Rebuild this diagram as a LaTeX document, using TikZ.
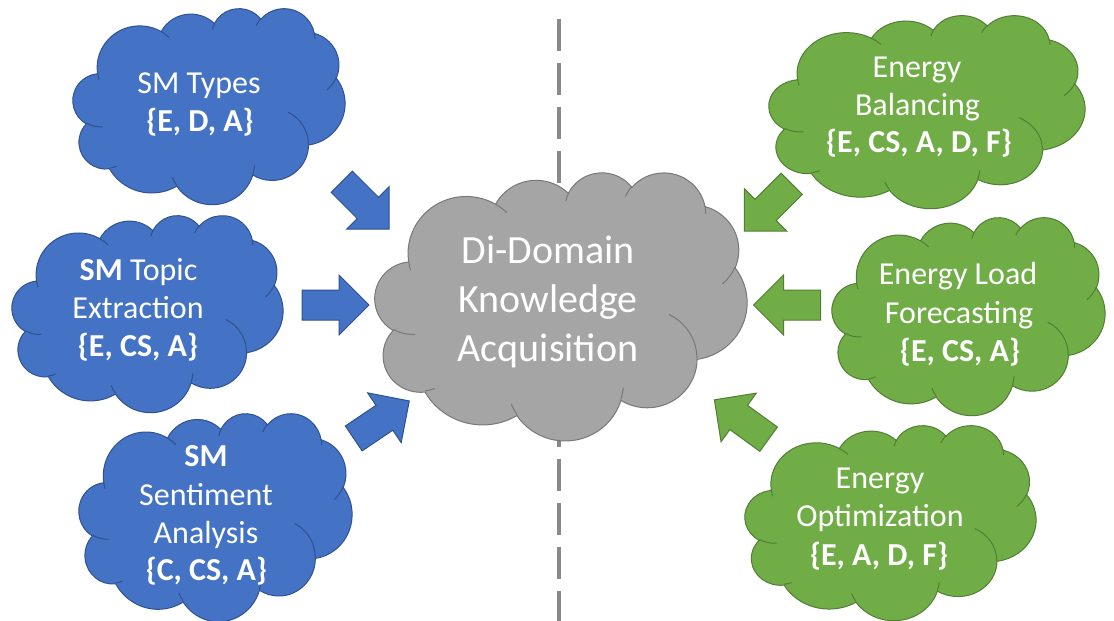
\documentclass[tikz,border=0pt]{standalone}
\usepackage{fontspec}
\setmainfont{Carlito}

\definecolor{cblue}{HTML}{4472C4}
\definecolor{cbluedk}{HTML}{2F528F}
\definecolor{cgreen}{HTML}{70AD47}
\definecolor{cgreendk}{HTML}{507E32}
\definecolor{cgray}{HTML}{A5A5A5}
\definecolor{cgraydk}{HTML}{787878}
\definecolor{cdash}{HTML}{898989}

% One lobe of a cloud: x radius, y radius, start direction, sweep (degrees).
% Directions are converted to the parametric angles used by TikZ arcs.
\newcommand\cldarc[4]{%
  \pgfextra{%
    \pgfmathsetmacro\cldA{#3}%
    \pgfmathsetmacro\cldB{#3+#4}%
    \pgfmathparse{\cldA+Mod(atan2((#1)*sin(\cldA),(#2)*cos(\cldA))-\cldA+180,360)-180}%
    \xdef\cldTa{\pgfmathresult}%
    \pgfmathparse{\cldB+Mod(atan2((#1)*sin(\cldB),(#2)*cos(\cldB))-\cldB+180,360)-180}%
    \xdef\cldTb{\pgfmathresult}%
  }%
  arc[x radius=#1, y radius=#2, start angle=\cldTa, end angle=\cldTb]}

% cloud outline in a 43.2 x 43.2 box (y pointing down)
\newcommand\cloudoutline{%
  (3.9,14.37)
  \cldarc{6.753}{9.190}{-190.48748}{123.78053}
  \cldarc{5.333}{7.267}{-144.10238}{89.94523}
  \cldarc{4.365}{5.945}{-145.80792}{99.72302}
  \cldarc{4.857}{6.595}{-130.98607}{117.24173}
  \cldarc{5.333}{7.273}{-78.70888}{109.02692}
  \cldarc{6.775}{9.220}{-46.26725}{130.269}
  \cldarc{5.785}{7.867}{0.62502}{114.03333}
  \cldarc{6.752}{9.215}{22.4516}{115.17255}
  \cldarc{7.720}{10.543}{66.24263}{75.71102}
  \cldarc{4.360}{5.918}{-274.94208}{146.73557}
  \cldarc{4.345}{5.945}{-246.8285}{152.51885}
  -- cycle}

% the short fold lines inside the cloud
\newcommand\cloudfolds{%
  (4.693,26.177) \cldarc{4.345}{5.945}{86.742}{26.4295}
  (6.928,34.899) \cldarc{4.360}{5.918}{73.61047}{11.44747}
  (16.478,39.090) \cldarc{6.752}{9.215}{137.62415}{14.0811}
  (28.827,34.751) \cldarc{6.752}{9.215}{6.45327}{15.99835}
  (34.129,22.954) \cldarc{5.785}{7.867}{-70.29235}{70.91737}
  (41.798,15.354) \cldarc{5.333}{7.273}{30.31803}{27.7515}
  (38.324,5.426) \cldarc{4.857}{6.595}{-13.74433}{14.8589}
  (29.078,3.952) \cldarc{4.857}{6.595}{-149.18145}{18.19537}
  (22.141,4.720) \cldarc{4.365}{5.945}{-163.49427}{17.68635}
  (14.000,5.192) \cldarc{6.753}{9.190}{-66.70695}{12.31935}
  (4.127,15.789) \cldarc{6.753}{9.190}{157.65435}{11.85817}}

% name, left, top, width, height, style
\newcommand\drawcloud[6]{%
  \begin{scope}[shift={(#2,#3)}, xscale=#4/43.2, yscale=#5/43.2]
    \path[#6] \cloudoutline;
    \path[#6, fill=none] \cloudfolds;
    \coordinate (#1) at (21.6,21.6);
  \end{scope}}

% name, centre x, centre y, rotation, style
\newcommand\blockarrow[5]{%
  \begin{scope}[shift={(#2,#3)}, rotate=#4]
    \path[#5] (-33.5,-15) -- (3.5,-15) -- (3.5,-30) -- (33.5,0)
      -- (3.5,30) -- (3.5,15) -- (-33.5,15) -- cycle;
    \coordinate (#1) at (0,0);
  \end{scope}}

\begin{document}
\begin{tikzpicture}[x=0.75pt, y=-0.75pt,
  bluefill/.style={fill=cblue, draw=cbluedk, line width=0.75pt},
  greenfill/.style={fill=cgreen, draw=cgreendk, line width=0.75pt},
  grayfill/.style={fill=cgray, draw=cgraydk, line width=0.75pt},
  divider/.style={draw=cdash, line width=2.6pt, dash pattern=on 24pt off 9pt},
  txt/.style={text=white, anchor=base, inner sep=0pt, font=\fontsize{24}{29}\selectfont},
  bigtxt/.style={txt, font=\fontsize{30}{36}\selectfont}]

  \fill[white] (0,0) rectangle (1114,621);
  \useasboundingbox (0,0) rectangle (1114,621);

  % dividing line between the two domains
  \coordinate (divtop) at (559,19);
  \coordinate (divbot) at (559,621);
  \draw[divider] (divtop) -- (divbot);

  % clouds
  \drawcloud{types}{73}{8}{272}{196}{bluefill}
  \drawcloud{topic}{12}{215}{271}{197}{bluefill}
  \drawcloud{senti}{79}{413}{273}{208}{bluefill}
  \drawcloud{core}{375}{172}{372}{268}{grayfill}
  \drawcloud{balance}{769}{15}{316}{193}{greenfill}
  \drawcloud{load}{832}{217}{273}{198}{greenfill}
  \drawcloud{optim}{745}{425}{291}{195}{greenfill}

  % block arrows towards the central cloud
  \blockarrow{a1}{365.5}{205.5}{-45}{bluefill}
  \blockarrow{a2}{335.5}{305}{0}{bluefill}
  \blockarrow{a3}{381.5}{419.7}{34}{bluefill}
  \blockarrow{a4}{768}{207.5}{-135}{greenfill}
  \blockarrow{a5}{787}{305}{180}{greenfill}
  \blockarrow{a6}{741.5}{419.5}{144}{greenfill}

  % labels
  \node[txt] (t1a) at (199,93) {SM Types};
  \node[txt] (t1b) at (200,131.7) {\textbf{\{E, D, A\}}};

  \node[txt] (t2a) at (138.5,280) {\textbf{SM} Topic};
  \node[txt] (t2b) at (138,318.3) {Extraction};
  \node[txt] (t2c) at (138,356) {\textbf{\{E, CS, A\}}};

  \node[txt] (t3a) at (206,466.7) {\textbf{SM}};
  \node[txt] (t3b) at (206,505) {Sentiment};
  \node[txt] (t3c) at (206,543) {Analysis};
  \node[txt] (t3d) at (206.5,580) {\textbf{\{C, CS, A\}}};

  \node[bigtxt] (c1) at (548,263.3) {Di-Domain};
  \node[bigtxt] (c2) at (548,312.7) {Knowledge};
  \node[bigtxt] (c3) at (548,361) {Acquisition};

  \node[txt] (g1a) at (917,77) {Energy};
  \node[txt] (g1b) at (917.5,115.5) {Balancing};
  \node[txt] (g1c) at (919,152.5) {\textbf{\{E, CS, A, D, F\}}};

  \node[txt] (g2a) at (958,284.8) {Energy Load};
  \node[txt] (g2b) at (959,323.3) {Forecasting};
  \node[txt] (g2c) at (960,361.7) {\textbf{\{E, CS, A\}}};

  \node[txt] (g3a) at (880,488.3) {Energy};
  \node[txt] (g3b) at (880,526.7) {Optimization};
  \node[txt] (g3c) at (879,565) {\textbf{\{E, A, D, F\}}};
\end{tikzpicture}
\end{document}
